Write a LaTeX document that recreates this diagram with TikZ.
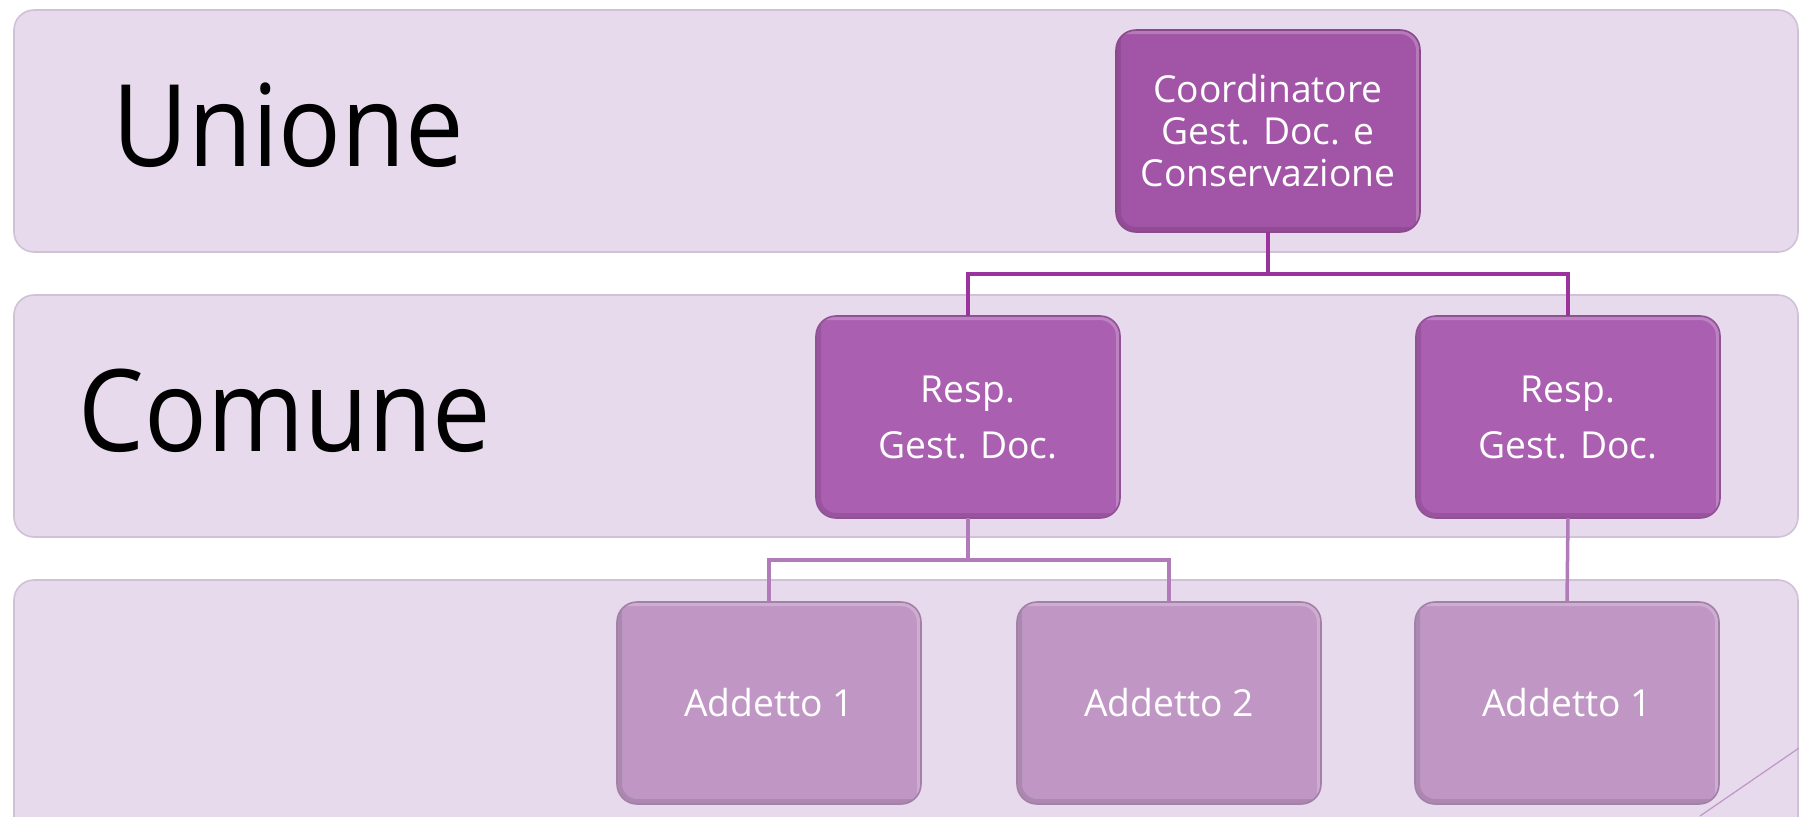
\documentclass[tikz,border=0pt]{standalone}
\usepackage{fontspec}
\setmainfont{Open Sans}
\newfontfamily\levelfont{Open Sans}[FakeStretch=0.915]
\usepackage{xcolor}
\usetikzlibrary{positioning,calc}

\definecolor{bandfill}{HTML}{E6DAEC}
\definecolor{banddraw}{HTML}{D0C1D7}
\definecolor{topbox}{HTML}{A255A6}
\definecolor{midbox}{HTML}{AA5FB0}
\definecolor{lowbox}{HTML}{C097C4}
\definecolor{toplink}{HTML}{9A349C}
\definecolor{lowlink}{HTML}{B17BBA}

\begin{document}
\begin{tikzpicture}[x=0.5pt,y=-0.5pt,
    band/.style={fill=bandfill, draw=banddraw, line width=0.8pt, rounded corners=10pt},
    level/.style={font=\levelfont\fontsize{57}{60}\selectfont, anchor=base west, inner sep=0pt},
    bevel/.style={path picture={
        \draw[black, opacity=0.10, line width=5pt]
          (path picture bounding box.north west) -- (path picture bounding box.south west)
          -- (path picture bounding box.south east);
        \draw[white, opacity=0.22, line width=4pt]
          (path picture bounding box.north west) -- (path picture bounding box.north east)
          -- (path picture bounding box.south east);}},
    orgbox/.style={rounded corners=10pt, minimum width=152pt, minimum height=101pt,
                   align=center, text=white, inner sep=0pt, outer sep=0pt, line width=0.8pt,
                   font=\fontsize{18.6}{21}\selectfont, bevel},
    link/.style={line width=1.75pt}]
  \useasboundingbox (0,0) rectangle (1799,816);
  \clip (0,0) rectangle (1799,816);

  % Level bands
  \draw[band] (14,10) rectangle (1798,252);
  \draw[band] (14,295) rectangle (1798,537);
  \draw[band] (14,580) rectangle (1798,860);

  % Level names
  \node[level] (unione) at (112,166) {Unione};
  \node[level] (comune) at (78,451) {Comune};

  % Boxes
  \node[orgbox, fill=topbox, draw=topbox!85!black] (coord) at (1268,131)
    {Coordinatore\\Gest. Doc. e\\Conservazione};
  \node[orgbox, fill=midbox, draw=midbox!85!black] (resp1) at (968,417)
    {Resp.\\[7pt]Gest. Doc.};
  \node[orgbox, fill=midbox, draw=midbox!85!black] (resp2) at (1568,417)
    {Resp.\\[7pt]Gest. Doc.};
  \node[orgbox, fill=lowbox, draw=lowbox!85!black] (add1) at (769,703) {Addetto 1};
  \node[orgbox, fill=lowbox, draw=lowbox!85!black] (add2) at (1169,703) {Addetto 2};
  \node[orgbox, fill=lowbox, draw=lowbox!85!black] (add3) at (1567,703) {Addetto 1};

  % Connectors
  \draw[link, toplink] (coord.south) -- ++(0,42) -| (resp1.north);
  \draw[link, toplink] (coord.south) -- ++(0,42) -| (resp2.north);
  \draw[link, lowlink] (resp1.south) -- ++(0,42) -| (add1.north);
  \draw[link, lowlink] (resp1.south) -- ++(0,42) -| (add2.north);
  \draw[link, lowlink] (resp2.south) -- (add3.north);

  % Corner stroke
  \coordinate (stroke-a) at (1700,816);
  \coordinate (stroke-b) at (1799,748);
  \draw[lowlink!80, line width=0.6pt] (stroke-a) -- (stroke-b);
\end{tikzpicture}
\end{document}
